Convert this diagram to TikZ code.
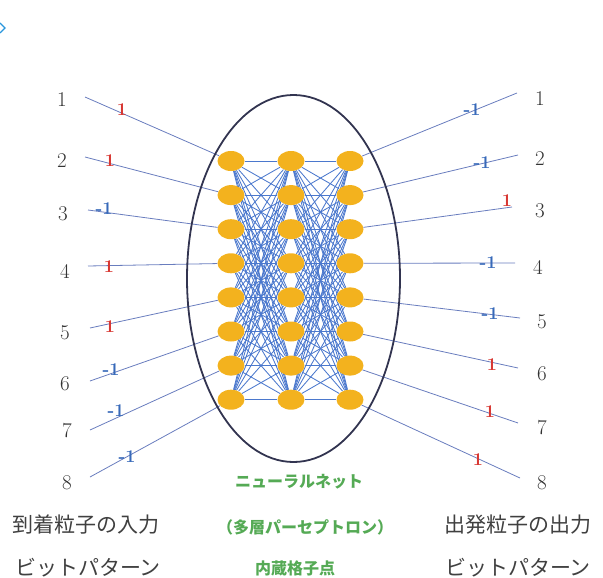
\documentclass[tikz,border=0pt]{standalone}
\usepackage{fontspec}
\newfontfamily\jp{Noto Sans CJK JP}
\usetikzlibrary{shapes.geometric}
\definecolor{neuron}{RGB}{243,178,30}
\definecolor{wire}{RGB}{75,120,205}
\definecolor{inwire}{RGB}{105,125,190}
\definecolor{wred}{RGB}{215,55,50}
\definecolor{wblue}{RGB}{55,105,185}
\definecolor{jgreen}{RGB}{85,170,85}
\definecolor{rim}{RGB}{50,52,80}
\definecolor{cornerblue}{RGB}{40,150,220}
\pgfdeclarelayer{bg}
\pgfsetlayers{bg,main}
\begin{document}
\begin{tikzpicture}[x=1pt,y=-1pt,
  neuronstyle/.style={ellipse,fill=neuron,minimum width=27pt,minimum height=20pt,inner sep=0pt},
  wirestyle/.style={wire,line width=0.85pt},
  iostyle/.style={inwire,line width=0.8pt},
  numstyle/.style={font=\fontsize{21}{21}\selectfont,text=black!80,inner sep=0pt},
  posw/.style={font=\bfseries\fontsize{18}{18}\selectfont,text=wred,inner sep=0pt},
  negw/.style={font=\bfseries\fontsize{18}{18}\selectfont,text=wblue,inner sep=0pt},
  jblack/.style={font=\jp\fontsize{21}{21}\selectfont,text=black!75,inner sep=0pt},
  jgreenstyle/.style={font=\jp\bfseries\fontsize{16}{16}\selectfont,text=jgreen,inner sep=0pt},
  rimstyle/.style={rim,line width=1.8pt}]
\useasboundingbox (0,0) rectangle (603,578);
% corner mark
\draw[cornerblue,line width=1.3pt] (0,23) -- (5,28) -- (0,33);
% big ellipse
\draw[rimstyle] (293.5,278.5) ellipse [x radius=106.5pt, y radius=183.5pt];
% neurons
\foreach \i in {1,...,8} {
  \pgfmathsetmacro\yy{161+(\i-1)*34.1}
  \node[neuronstyle] (L\i) at (231,\yy) {};
  \node[neuronstyle] (M\i) at (291,\yy) {};
  \node[neuronstyle] (R\i) at (350,\yy) {};
}
% connections
\begin{pgfonlayer}{bg}
\foreach \i in {1,...,8} {
  \foreach \j in {1,...,8} {
    \draw[wirestyle] (L\i) -- (M\j);
    \draw[wirestyle] (M\i) -- (R\j);
  }
}
\end{pgfonlayer}
% inputs
\foreach \i/\x/\y/\nx/\ny in {1/85/97/62/100, 2/85/157/62/161, 3/88/210/63/214, 4/88/266/65/271, 5/90/328/65/333, 6/90/381/65/384, 7/90/430/67/431, 8/90/477/67/483} {
  \coordinate (in\i) at (\x,\y);
  \node[numstyle] (innum\i) at (\nx,\ny) {\i};
  \begin{pgfonlayer}{bg}
  \draw[iostyle] (in\i) -- (L\i);
  \end{pgfonlayer}
}
% outputs
\foreach \i/\x/\y/\nx/\ny in {1/517/93/540/99, 2/518/155/540/159, 3/512/207/540/211, 4/515/263/538/267, 5/520/318/542/322, 6/518/368/542/374, 7/518/423/542/428, 8/520/478/542/483} {
  \coordinate (out\i) at (\x,\y);
  \node[numstyle] (outnum\i) at (\nx,\ny) {\i};
  \begin{pgfonlayer}{bg}
  \draw[iostyle] (R\i) -- (out\i);
  \end{pgfonlayer}
}
% input weights
\node[posw] (wi1) at (122,110) {1};
\node[posw] (wi2) at (110,161) {1};
\node[negw] (wi3) at (104,209) {-1};
\node[posw] (wi4) at (109,267) {1};
\node[posw] (wi5) at (110,327) {1};
\node[negw] (wi6) at (111,370) {-1};
\node[negw] (wi7) at (116,411) {-1};
\node[negw] (wi8) at (127,457) {-1};
% output weights
\node[negw] (wo1) at (472,110) {-1};
\node[negw] (wo2) at (482,163) {-1};
\node[posw] (wo3) at (507,201) {1};
\node[negw] (wo4) at (488,263) {-1};
\node[negw] (wo5) at (490,314) {-1};
\node[posw] (wo6) at (492,365) {1};
\node[posw] (wo7) at (490,412) {1};
\node[posw] (wo8) at (478,460) {1};
% bottom texts
\node[jgreenstyle] (t1) at (299,482) {ニューラルネット};
\node[jgreenstyle] (t2) at (305,527) {（多層パーセプトロン）};
\node[jgreenstyle] (t3) at (295,568) {内蔵格子点};
\node[jblack] (t4) at (86,525) {到着粒子の入力};
\node[jblack] (t5) at (88,568) {ビットパターン};
\node[jblack] (t6) at (518,525) {出発粒子の出力};
\node[jblack] (t7) at (518,568) {ビットパターン};
\end{tikzpicture}
\end{document}
